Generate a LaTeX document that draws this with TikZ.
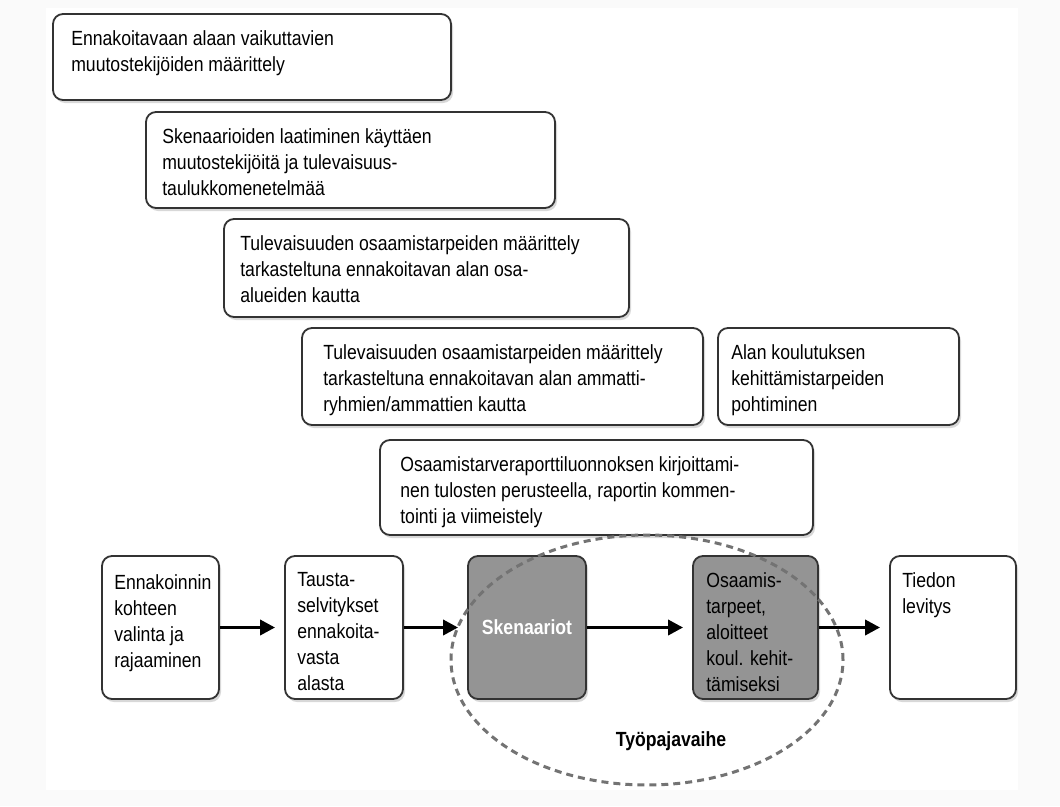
\documentclass[tikz,border=0pt]{standalone}
\usepackage{fontspec}
\setmainfont{Liberation Sans}[FakeStretch=0.86]
\usetikzlibrary{arrows.meta,shapes.geometric,shadows}

\tikzset{
  laatikko/.style={draw=black!80, line width=1.8pt, rounded corners=10pt, fill=white, inner sep=0pt,
    drop shadow={shadow xshift=2pt, shadow yshift=-3pt, opacity=0.3}},
  harmaa/.style={laatikko, fill=black!42},
  teksti/.style={anchor=north west, inner sep=0pt, align=left, font=\fontsize{20.5}{26}\selectfont},
  nuoli/.style={line width=3.5pt, -{Triangle[length=15pt,width=15pt]}, shorten >=9pt}
}

\begin{document}
\begin{tikzpicture}[x=1pt,y=-1pt]
\useasboundingbox (0,0) rectangle (1060,806);
\fill[black!2] (0,0) rectangle (1060,806);
\fill[white] (46,8) rectangle (1018,790);
% vaiheet ylhaalla
\node[laatikko, minimum width=398, minimum height=86] (muutos) at (252,57) {};
\node[laatikko, minimum width=409, minimum height=96] (skenlaad) at (350.5,160) {};
\node[laatikko, minimum width=405, minimum height=98] (osa) at (426.5,268) {};
\node[laatikko, minimum width=401, minimum height=97] (ammatti) at (502.5,376.5) {};
\node[laatikko, minimum width=241, minimum height=97] (koulutus) at (838.5,376.5) {};
\node[laatikko, minimum width=433, minimum height=95] (raportti) at (596.5,487.5) {};
% prosessi alhaalla
\node[laatikko, minimum width=117, minimum height=143] (valinta) at (160.5,627.5) {};
\node[laatikko, minimum width=118, minimum height=143] (tausta) at (344,627.5) {};
\node[harmaa, minimum width=118, minimum height=143, text=white,
  font=\bfseries\fontsize{20.5}{26}\selectfont] (skenaariot) at (527,627.5) {Skenaariot};
\node[harmaa, minimum width=125, minimum height=143] (tarpeet) at (755.5,627.5) {};
\node[laatikko, minimum width=126, minimum height=143] (levitys) at (953,627.5) {};
% tyopajavaihe
\node[ellipse, draw=black!55, line width=3pt, dash pattern=on 7pt off 5pt,
  minimum width=392, minimum height=250] (paja) at (647,660) {};
\node[font=\bfseries\fontsize{20.5}{26}\selectfont] (pajateksti) at (671,741) {Työpajavaihe};
\draw[nuoli] (valinta) -- (tausta);
\draw[nuoli] (tausta) -- (skenaariot);
\draw[nuoli] (skenaariot) -- (tarpeet);
\draw[nuoli] (tarpeet) -- (levitys);
% tekstit
\node[teksti] (muutos-t) at ([shift={(19,17)}]muutos.north west)
  {Ennakoitavaan alaan vaikuttavien\\muutostekijöiden määrittely};
\node[teksti] (skenlaad-t) at ([shift={(17,17)}]skenlaad.north west)
  {Skenaarioiden laatiminen käyttäen\\muutostekijöitä ja tulevaisuus-\\taulukkomenetelmää};
\node[teksti] (osa-t) at ([shift={(17,17)}]osa.north west)
  {Tulevaisuuden osaamistarpeiden määrittely\\tarkasteltuna ennakoitavan alan osa-\\alueiden kautta};
\node[teksti] (ammatti-t) at ([shift={(22,17)}]ammatti.north west)
  {Tulevaisuuden osaamistarpeiden määrittely\\tarkasteltuna ennakoitavan alan ammatti-\\ryhmien/ammattien kautta};
\node[teksti] (koulutus-t) at ([shift={(14,17)}]koulutus.north west)
  {Alan koulutuksen\\kehittämistarpeiden\\pohtiminen};
\node[teksti] (raportti-t) at ([shift={(21,17)}]raportti.north west)
  {Osaamistarveraporttiluonnoksen kirjoittami-\\nen tulosten perusteella, raportin kommen-\\tointi ja viimeistely};
\node[teksti] (valinta-t) at ([shift={(13,19)}]valinta.north west)
  {Ennakoinnin\\kohteen\\valinta ja\\rajaaminen};
\node[teksti] (tausta-t) at ([shift={(13,17)}]tausta.north west)
  {Tausta-\\selvitykset\\ennakoita-\\vasta\\alasta};
\node[teksti] (tarpeet-t) at ([shift={(14,17)}]tarpeet.north west)
  {Osaamis-\\tarpeet,\\aloitteet\\koul. kehit-\\tämiseksi};
\node[teksti] (levitys-t) at ([shift={(13,17)}]levitys.north west)
  {Tiedon\\levitys};
\end{tikzpicture}
\end{document}
